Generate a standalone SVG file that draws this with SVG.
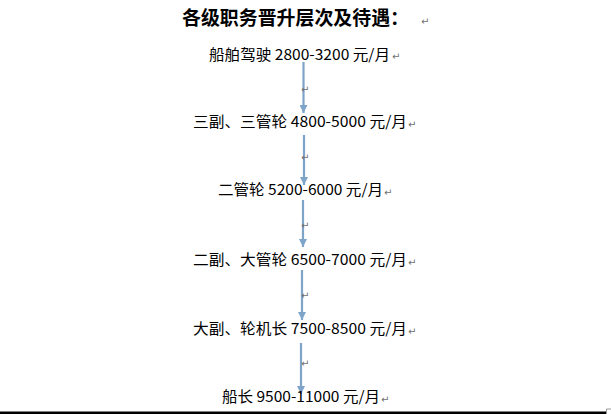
<svg xmlns="http://www.w3.org/2000/svg" width="611" height="414" viewBox="0 0 611 414">
<style>
.t{font-family:"Noto Sans CJK SC","Liberation Sans",sans-serif;font-size:15px;fill:#000}
.h{font-family:"Noto Sans CJK SC","Liberation Sans",sans-serif;font-size:19px;font-weight:bold;fill:#000}
.pm{font-family:"DejaVu Sans",sans-serif;font-size:10px;fill:#707070}
.a{stroke:#7ea4c9;stroke-width:2.2;fill:none;marker-end:url(#ah)}
</style>
<defs>
<marker id="ah" markerUnits="userSpaceOnUse" markerWidth="8" markerHeight="8" refX="8" refY="4" orient="auto">
<path d="M0,0 L8,4 L0,8 z" fill="#7ea4c9"/>
</marker>
</defs>
<rect width="611" height="414" fill="#fff"/>
<g id="title">
<text class="h" x="182" y="25" textLength="227" lengthAdjust="spacingAndGlyphs">各级职务晋升层次及待遇：</text>
<text class="pm" x="421" y="25">↵</text>
</g>
<g id="connectors">
<line class="a" x1="303.5" y1="62" x2="303.5" y2="113"/>
<line class="a" x1="304" y1="135" x2="304" y2="185"/>
<line class="a" x1="303" y1="200" x2="303" y2="247"/>
<line class="a" x1="302" y1="270" x2="302" y2="320"/>
<line class="a" x1="301" y1="343" x2="301" y2="394"/>
<text class="pm" x="301" y="93">↵</text>
<text class="pm" x="301" y="161">↵</text>
<text class="pm" x="301" y="229">↵</text>
<text class="pm" x="301" y="299">↵</text>
<text class="pm" x="301" y="367">↵</text>
</g>
<g id="n1">
<text class="t" x="209" y="60" textLength="181" lengthAdjust="spacingAndGlyphs">船舶驾驶 2800-3200 元/月</text>
<text class="pm" x="392" y="60">↵</text>
</g>
<g id="n2">
<text class="t" x="193" y="127" textLength="214" lengthAdjust="spacingAndGlyphs">三副、三管轮 4800-5000 元/月</text>
<text class="pm" x="408" y="128">↵</text>
</g>
<g id="n3">
<text class="t" x="218" y="195" textLength="165" lengthAdjust="spacingAndGlyphs">二管轮 5200-6000 元/月</text>
<text class="pm" x="384" y="196">↵</text>
</g>
<g id="n4">
<text class="t" x="193" y="265" textLength="214" lengthAdjust="spacingAndGlyphs">二副、大管轮 6500-7000 元/月</text>
<text class="pm" x="408" y="266">↵</text>
</g>
<g id="n5">
<text class="t" x="193" y="334" textLength="214" lengthAdjust="spacingAndGlyphs">大副、轮机长 7500-8500 元/月</text>
<text class="pm" x="408" y="335">↵</text>
</g>
<g id="n6">
<text class="t" x="222" y="402" textLength="158" lengthAdjust="spacingAndGlyphs">船长 9500-11000 元/月</text>
<text class="pm" x="381" y="403">↵</text>
</g>
<rect x="0" y="411.5" width="606" height="2.5" fill="#000"/>
<polyline points="606.5,414 606.5,409 611,409" fill="none" stroke="#999" stroke-width="1"/>
</svg>
